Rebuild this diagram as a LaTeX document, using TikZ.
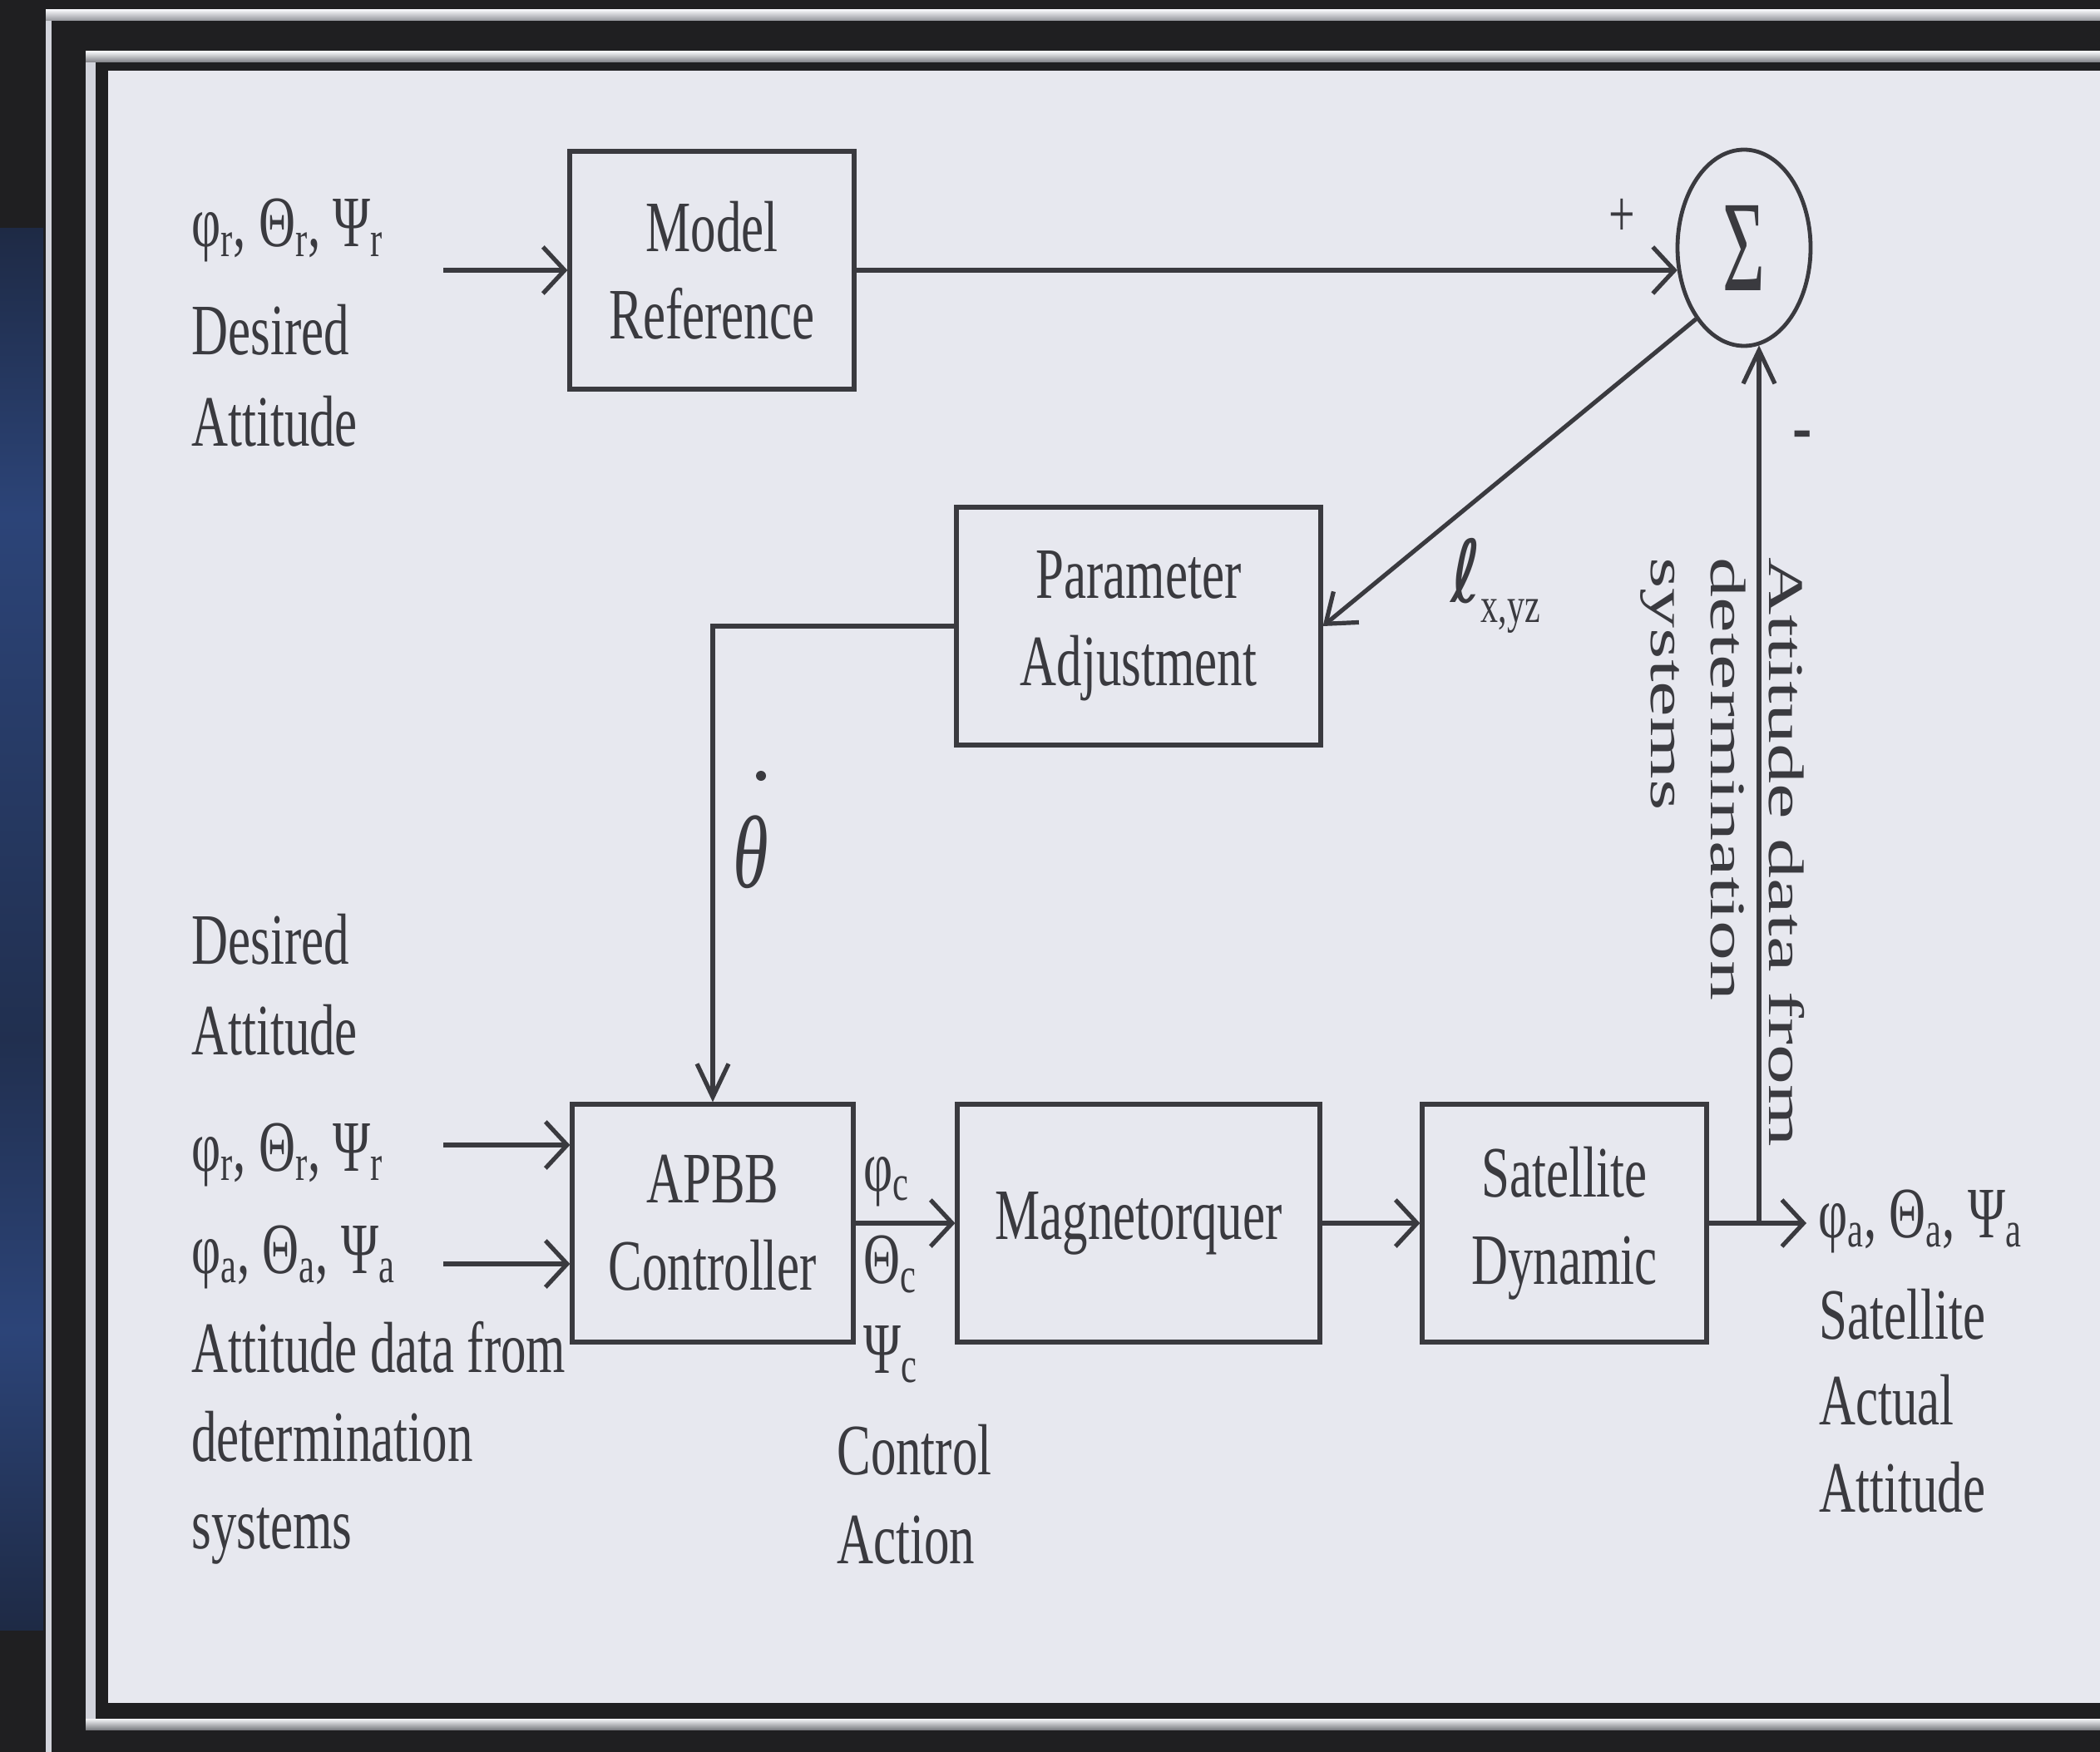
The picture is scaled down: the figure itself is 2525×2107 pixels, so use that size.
\documentclass[tikz,border=0pt]{standalone}
\usepackage{graphicx}
\usepackage{fontspec}
\setmainfont{Liberation Serif}[FakeStretch=0.70]
\newfontfamily\rotfont{Liberation Serif}[FakeStretch=1.6]
\newfontfamily\ellfont{DejaVu Sans}[FakeStretch=0.85]
\usetikzlibrary{arrows.meta,shapes.geometric}

\definecolor{ink}{HTML}{3A3A3F}
\definecolor{paper}{HTML}{E7E8EF}
\definecolor{frame}{HTML}{1F1F21}
\definecolor{rim}{HTML}{D2D4DC}
\definecolor{rimlight}{HTML}{F4F5F8}
\definecolor{deepblue}{HTML}{2C4478}
\definecolor{navy}{HTML}{1E2A45}

\newcommand\bodyfont{\fontsize{43.5}{52.5}\selectfont}

\tikzset{
  blk/.style={draw=ink, line width=2.6pt, minimum height=143pt, inner sep=0pt,
              align=center, text=ink, font=\bodyfont},
  lbl/.style={text=ink, inner sep=0pt, font=\bodyfont, anchor=base west},
  rot/.style={rotate=-90, text=ink, inner sep=0pt, anchor=base west,
              font=\rotfont\fontsize{30}{36}\selectfont},
  wire/.style={draw=ink, line width=2.6pt},
  hin/.style={-{Straight Barb[length=13pt,width=28pt]}},
  vin/.style={-{Straight Barb[length=20pt,width=19pt]}},
  din/.style={-{Straight Barb[length=16pt,width=24pt]}},
}

\begin{document}
\begin{tikzpicture}[x=0.5pt,y=-0.5pt]
\useasboundingbox (0,0) rectangle (2525,2107);

% dark mount and its rims
\fill[frame] (0,0) rectangle (2525,2107);
\shade[top color=navy, bottom color=deepblue] (0,275) rectangle (52,620);
\shade[top color=deepblue, bottom color=navy!80!deepblue] (0,620) rectangle (52,1250);
\shade[top color=navy!80!deepblue, bottom color=deepblue] (0,1250) rectangle (52,1600);
\shade[top color=deepblue, bottom color=navy] (0,1600) rectangle (52,1960);
\fill[rim] (55,12) rectangle (62,2107);
\shade[top color=rimlight, bottom color=rim!70!black] (55,12) rectangle (2525,25);
\fill[rim] (103,62) rectangle (115,2080);
\shade[top color=rimlight, bottom color=rim!60!black] (103,62) rectangle (2525,75);
\shade[top color=rimlight, bottom color=rim!60!black] (103,2067) rectangle (2525,2080);
\fill[paper] (130,85) rectangle (2525,2048);

% blocks
\node[blk, minimum width=171pt] (mref) at (856,325) {Model\\Reference};
\node[blk, minimum width=219pt] (padj) at (1369,753) {Parameter\\Adjustment};
\node[blk, minimum width=169pt] (apbb) at (857,1471) {APBB\\Controller};
\node[blk, minimum width=218pt] (mag)  at (1369,1471) {Magnetorquer};
\node[blk, minimum width=171pt] (sat)  at (1881,1471) {Satellite\\Dynamic};
\node[ellipse, draw=ink, line width=2.4pt, minimum width=80pt, minimum height=118pt,
      inner sep=0pt, text=ink] (sigma) at (2097,298)
      {\fontsize{78}{78}\selectfont\scalebox{0.8}[1]{Σ}};

% signs at the summing junction
\node[text=ink, inner sep=0pt, font=\fontsize{40}{40}\selectfont] (plus) at (1950,262) {+};
\node[text=ink, inner sep=0pt, font=\fontsize{50}{50}\selectfont] (minus) at (2167,532) {-};

% free ends of connectors
\coordinate (r1in) at (533,325);
\coordinate (b1in) at (533,1377);
\coordinate (b2in) at (533,1520);
\coordinate (outp) at (2172,1471);
\coordinate (jct)  at (2115,1471);

% connectors
\draw[wire, hin] (r1in) -- (mref.west);
\draw[wire, hin] (mref.east) -- (sigma.199 |- mref.east);
\draw[wire, din] (sigma.236) -- (padj.east);
\draw[wire, vin] (padj.west) -| (apbb.north);
\draw[wire, hin] (b1in) -- (b1in -| apbb.west);
\draw[wire, hin] (b2in) -- (b2in -| apbb.west);
\draw[wire, hin] (apbb.east) -- (mag.west);
\draw[wire, hin] (mag.east) -- (sat.west);
\draw[wire, hin] (sat.east) -- (outp);
\draw[wire, vin] (jct) -- (jct |- sigma.279);

% reference input
\node[lbl] (tsym) at (230,297) {φ\textsubscript{r}, Θ\textsubscript{r}, Ψ\textsubscript{r}};
\node[lbl] (tdes) at (230,427) {Desired};
\node[lbl] (tatt) at (230,537) {Attitude};

% controller inputs
\node[lbl] (bdes) at (230,1159) {Desired};
\node[lbl] (batt) at (230,1268) {Attitude};
\node[lbl] (bsym1) at (230,1408) {φ\textsubscript{r}, Θ\textsubscript{r}, Ψ\textsubscript{r}};
\node[lbl] (bsym2) at (230,1531) {φ\textsubscript{a}, Θ\textsubscript{a}, Ψ\textsubscript{a}};
\node[lbl] (bd1) at (230,1650) {Attitude data from};
\node[lbl] (bd2) at (230,1757) {determination};
\node[lbl] (bd3) at (230,1862) {systems};

% control action
\node[lbl] (cphi) at (1038,1432) {φ\textsubscript{c}};
\node[lbl] (cth)  at (1038,1543) {Θ\textsubscript{c}};
\node[lbl] (cpsi) at (1038,1651) {Ψ\textsubscript{c}};
\node[lbl] (ct1) at (1006,1773) {Control};
\node[lbl] (ct2) at (1006,1880) {Action};

% plant output
\node[lbl] (osym) at (2186,1488) {φ\textsubscript{a}, Θ\textsubscript{a}, Ψ\textsubscript{a}};
\node[lbl] (ot1) at (2187,1610) {Satellite};
\node[lbl] (ot2) at (2187,1713) {Actual};
\node[lbl] (ot3) at (2187,1818) {Attitude};

% adaptation signals
\node[lbl, font=\fontsize{62}{62}\selectfont\itshape, anchor=center] (thdot) at (903,1025) {θ};
\fill[ink] (915,933) circle (3pt);
\node[lbl, font=\ellfont\fontsize{52}{52}\selectfont] (err) at (1744,724)
      {ℓ\raisebox{-12pt}{\rmfamily\fontsize{30}{30}\selectfont x,yz}};

% feedback annotation
\node[rot] (fb1) at (2127,670) {Attitude data from};
\node[rot] (fb2) at (2057,670) {determination};
\node[rot] (fb3) at (1985,670) {systems};
\end{tikzpicture}
\end{document}
